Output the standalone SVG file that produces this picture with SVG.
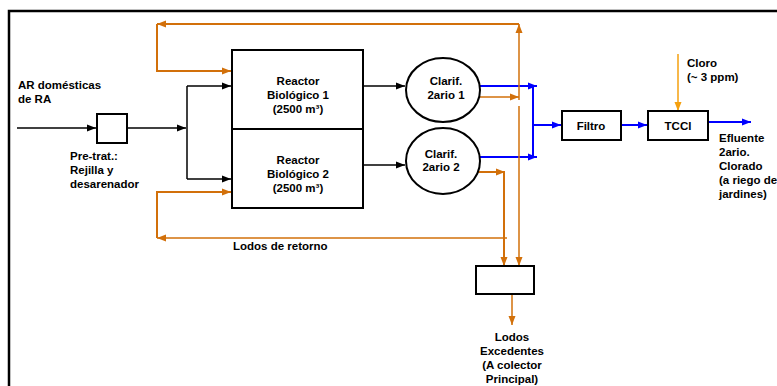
<svg xmlns="http://www.w3.org/2000/svg" width="777" height="386" viewBox="0 0 777 386">
<style>
text{font-family:"Liberation Sans",Arial,sans-serif;font-size:11.5px;font-weight:bold;fill:#000}
.c{text-anchor:middle}
.box{fill:#fff;stroke:#000;stroke-width:2}
.k{fill:none;stroke:#000;stroke-width:1.5}
.b{fill:none;stroke:#0000ff;stroke-width:2}
.o{fill:none;stroke:#d2700a;stroke-width:2}
.ot{fill:none;stroke:#d2700a;stroke-width:1.5}
.y{fill:none;stroke:#f5a00f;stroke-width:1.5}
</style>
<defs>
<marker id="ak" markerUnits="userSpaceOnUse" markerWidth="10" markerHeight="8" refX="9" refY="4" orient="auto"><path d="M0,0.5 L9,4 L0,7.5 z" fill="#000"/></marker>
<marker id="ab" markerUnits="userSpaceOnUse" markerWidth="10" markerHeight="8" refX="9" refY="4" orient="auto"><path d="M0,0.5 L9,4 L0,7.5 z" fill="#0000ff"/></marker>
<marker id="ao" markerUnits="userSpaceOnUse" markerWidth="10" markerHeight="8" refX="9" refY="4" orient="auto"><path d="M0,0.5 L9,4 L0,7.5 z" fill="#d2700a"/></marker>
<marker id="ay" markerUnits="userSpaceOnUse" markerWidth="10" markerHeight="8" refX="9" refY="4" orient="auto"><path d="M0,0.5 L9,4 L0,7.5 z" fill="#f5a00f"/></marker>
</defs>
<rect x="9" y="11" width="800" height="400" fill="#fff" stroke="#000" stroke-width="2.5"/>
<g id="connectors">
<path class="k" d="M17,128 H96" marker-end="url(#ak)"/>
<path class="k" d="M127,128 H186" marker-end="url(#ak)"/>
<path class="k" d="M187,86 V179"/>
<path class="k" d="M187,86 H231" marker-end="url(#ak)"/>
<path class="k" d="M187,179 H231" marker-end="url(#ak)"/>
<path class="k" d="M363,86 H405" marker-end="url(#ak)"/>
<path class="k" d="M363,165 H405" marker-end="url(#ak)"/>
<path class="b" d="M480,86 H537" marker-end="url(#ab)"/>
<path class="b" d="M480,157 H537" marker-end="url(#ab)"/>
<path class="b" d="M533,86 V158"/>
<path class="b" d="M533,125 H561" marker-end="url(#ab)"/>
<path class="b" d="M621,125 H647" marker-end="url(#ab)"/>
<path class="b" d="M708,122 H751" marker-end="url(#ab)"/>
<path class="y" d="M678,54 V111" marker-end="url(#ay)"/>
<path class="ot" d="M477,97 H519" marker-end="url(#ao)"/>
<path class="ot" d="M519,100 V24" marker-end="url(#ao)"/>
<path class="ot" d="M519,106 V266" marker-end="url(#ao)"/>
<path class="o" d="M519,24 H157" marker-end="url(#ao)"/>
<path class="o" d="M157,24 V71 H231" marker-end="url(#ao)"/>
<path class="o" d="M477,172 H505" marker-end="url(#ao)"/>
<path class="o" d="M504,172 V266" marker-end="url(#ao)"/>
<path class="ot" d="M507,238 H157" marker-end="url(#ao)"/>
<path class="o" d="M157,238 V192 H231" marker-end="url(#ao)"/>
<path class="ot" d="M512,294 V325" marker-end="url(#ao)"/>
</g>
<g id="input-label">
<text x="18" y="89">AR domésticas</text>
<text x="18" y="103">de RA</text>
</g>
<g id="pretrat">
<rect class="box" x="97" y="114" width="30" height="29"/>
<text x="70" y="160">Pre-trat.:</text>
<text x="70" y="174">Rejilla y</text>
<text x="70" y="188">desarenador</text>
</g>
<g id="reactor1">
<rect class="box" x="232" y="50" width="131" height="79"/>
<text class="c" x="298" y="85">Reactor</text>
<text class="c" x="298" y="99">Biológico 1</text>
<text class="c" x="298" y="113">(2500 m³)</text>
</g>
<g id="reactor2">
<rect class="box" x="232" y="129" width="131" height="79"/>
<text class="c" x="298" y="164">Reactor</text>
<text class="c" x="298" y="178">Biológico 2</text>
<text class="c" x="298" y="192">(2500 m³)</text>
</g>
<g id="clarif1">
<ellipse class="box" cx="443" cy="90" rx="37" ry="32"/>
<text class="c" x="446" y="85">Clarif.</text>
<text class="c" x="446" y="99">2ario 1</text>
</g>
<g id="clarif2">
<ellipse class="box" cx="443" cy="161" rx="37" ry="33"/>
<text class="c" x="441" y="158">Clarif.</text>
<text class="c" x="441" y="171">2ario 2</text>
</g>
<g id="filtro">
<rect class="box" x="562" y="111" width="59" height="29"/>
<text class="c" x="591" y="130">Filtro</text>
</g>
<g id="tccl">
<rect class="box" x="648" y="111" width="60" height="29"/>
<text class="c" x="678" y="130">TCCl</text>
</g>
<g id="cloro-label">
<text x="687" y="67">Cloro</text>
<text x="687" y="81">(~ 3 ppm)</text>
</g>
<g id="efluente-label">
<text x="719" y="142">Efluente</text>
<text x="719" y="156">2ario.</text>
<text x="719" y="170">Clorado</text>
<text x="719" y="184">(a riego de</text>
<text x="719" y="198">jardines)</text>
</g>
<g id="lodos-retorno-label">
<text x="233" y="250">Lodos de retorno</text>
</g>
<g id="purga">
<rect class="box" x="476" y="266" width="58" height="28"/>
</g>
<g id="lodos-exc-label">
<text class="c" x="512" y="341">Lodos</text>
<text class="c" x="512" y="355">Excedentes</text>
<text class="c" x="512" y="369">(A colector</text>
<text class="c" x="512" y="383">Principal)</text>
</g>
</svg>
